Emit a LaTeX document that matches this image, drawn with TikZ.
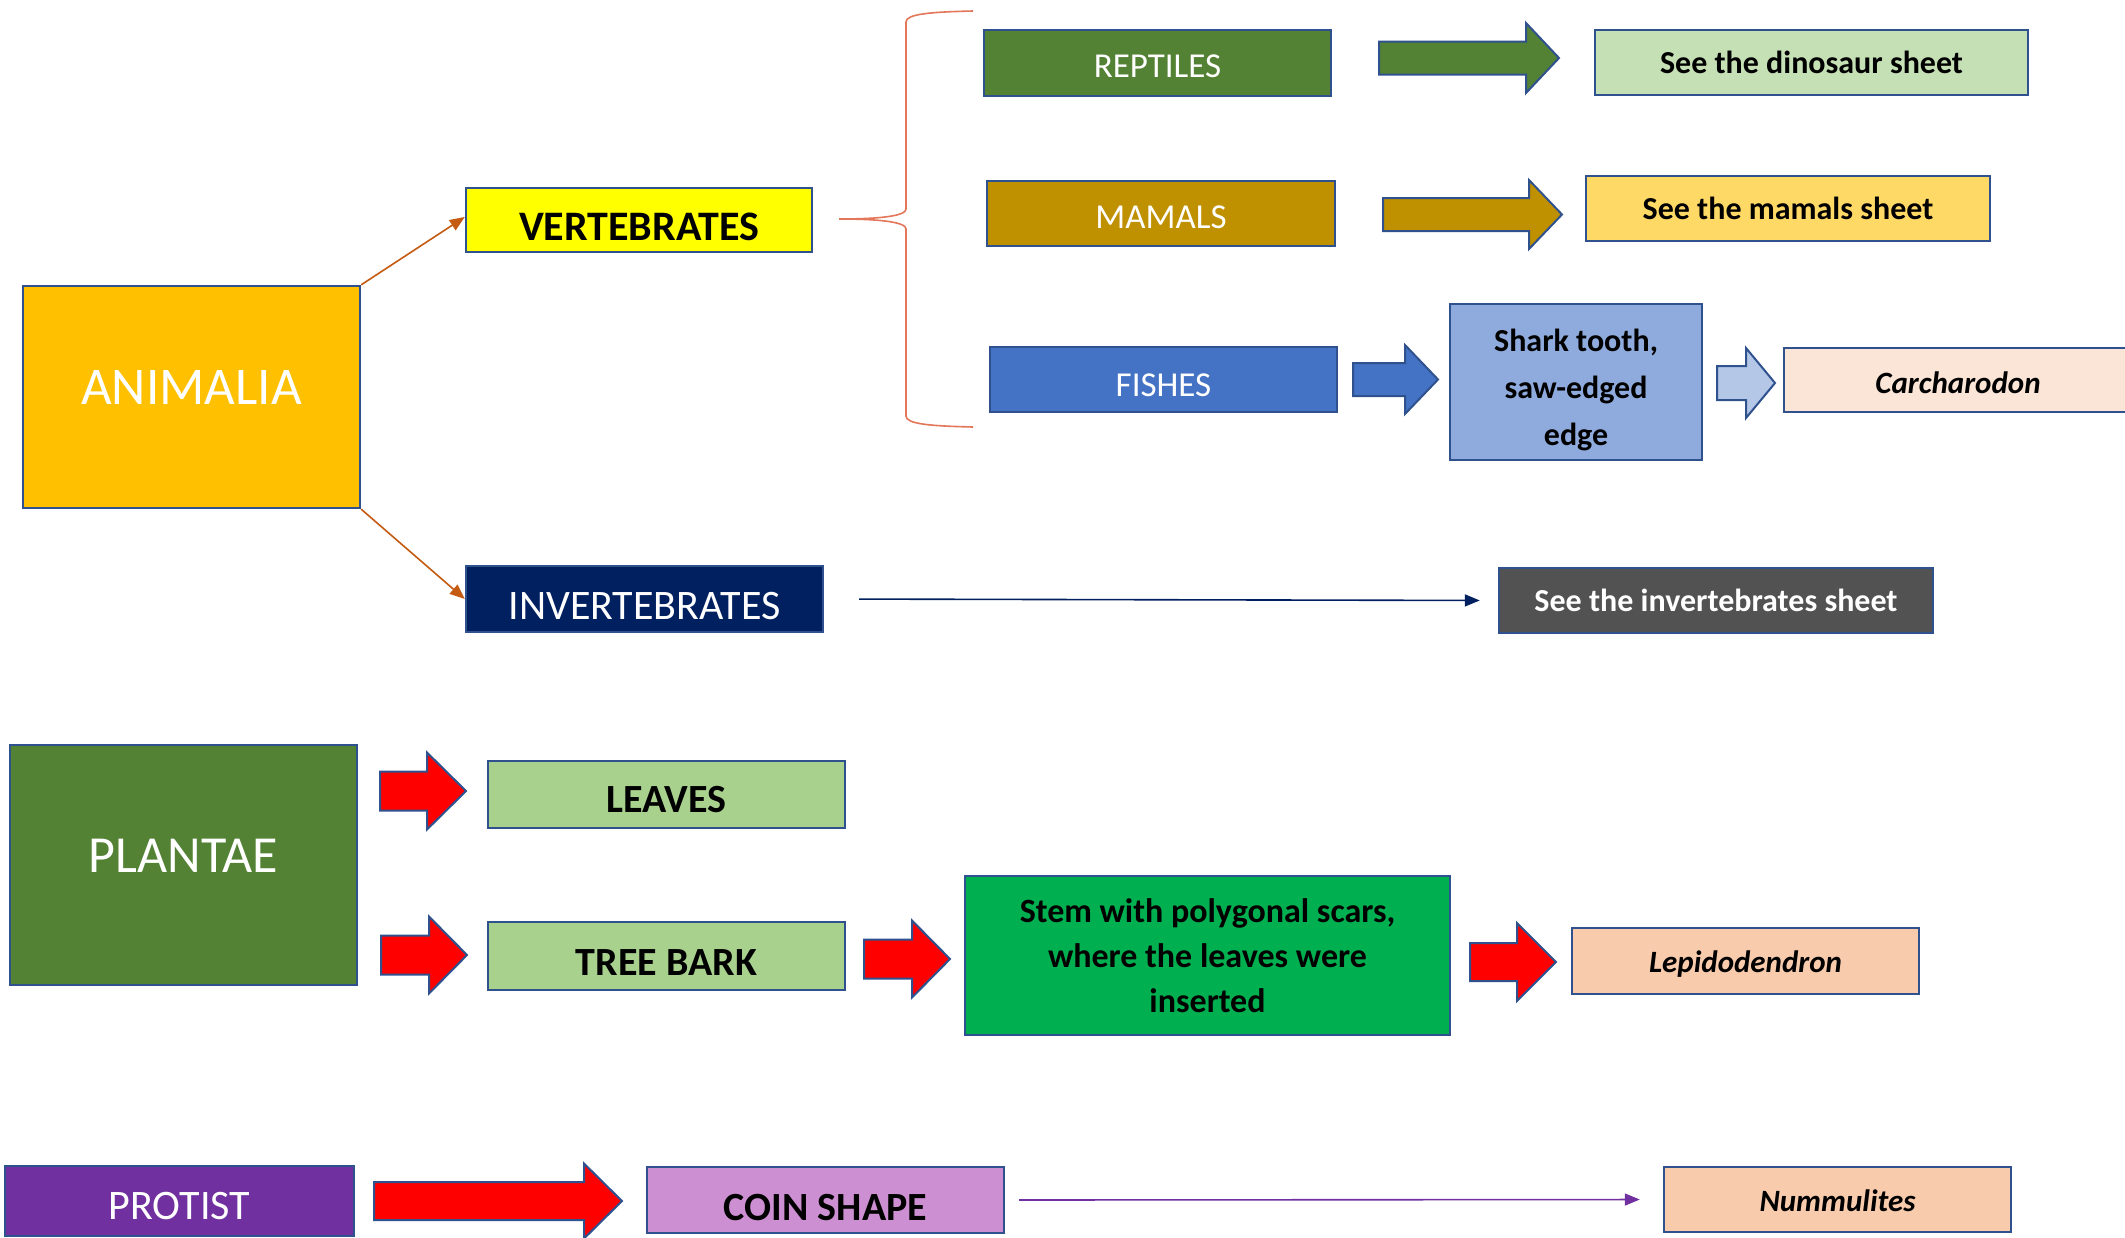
\documentclass[tikz,border=0pt]{standalone}
\usepackage{fontspec}
\setmainfont{Carlito}
\usetikzlibrary{arrows.meta}
\definecolor{bordc}{HTML}{2F528F}
\definecolor{animc}{HTML}{FFC000}
\definecolor{vertc}{HTML}{FFFF00}
\definecolor{invc}{HTML}{002060}
\definecolor{greenc}{HTML}{548235}
\definecolor{dinoc}{HTML}{C5E0B4}
\definecolor{goldc}{HTML}{BF9000}
\definecolor{mamc}{HTML}{FFD966}
\definecolor{bluec}{HTML}{4472C4}
\definecolor{sharkc}{HTML}{8FAADC}
\definecolor{lblue}{HTML}{B4C7E7}
\definecolor{carchc}{HTML}{FBE5D6}
\definecolor{grayc}{HTML}{525252}
\definecolor{leafc}{HTML}{A9D18E}
\definecolor{stemc}{HTML}{00B050}
\definecolor{peachc}{HTML}{F8CBAD}
\definecolor{purc}{HTML}{7030A0}
\definecolor{coinc}{HTML}{CC8FD1}
\definecolor{orangec}{HTML}{C55A11}
\definecolor{bracec}{HTML}{E4765A}
\newcommand\fsz[2]{\fontsize{#1}{#2}\selectfont}
\newcommand\dn[2]{\raisebox{-#1}[\height][\depth]{#2}}
\newcommand\barrow[7]{%
  \draw[blockarrow, fill=#7] (#1,#4-#5) -- (#2,#4-#5) -- (#2,#4-#6) -- (#3,#4)
   -- (#2,#4+#6) -- (#2,#4+#5) -- (#1,#4+#5) -- cycle;}
\tikzset{
  box/.style={draw=bordc, line width=1.2pt, inner sep=0pt, align=center},
  sz/.style 2 args={minimum width=#1, minimum height=#2},
  blockarrow/.style={draw=bordc, line width=1pt, line join=miter},
  big/.style={font=\fsz{26.5pt}{32pt}, text=white},
  mid/.style={font=\fsz{21pt}{25pt}},
  small/.style={font=\fsz{17.5pt}{21pt}, text=white},
  plantlbl/.style={font=\bfseries\fsz{20pt}{24pt}},
  sheet/.style={font=\bfseries\fsz{16pt}{20pt}},
  species/.style={font=\bfseries\itshape\fsz{15.5pt}{19pt}},
  thinarrow/.style={line width=0.8pt, -{Triangle[length=7.5pt,width=6pt]}},
}
\begin{document}
\begin{tikzpicture}[x=0.5pt,y=-0.5pt]
\useasboundingbox (0,0) rectangle (2125,1237);
\clip (0,0) rectangle (2125,1237);
\fill[white] (0,0) rectangle (2125,1237);

% Animalia
\node[box, fill=animc, big, sz={168.5pt}{111pt}] (animalia) at (191.5,397) {\dn{-4.75pt}{ANIMALIA}};
\node[box, fill=vertc, font=\bfseries\fsz{21pt}{25pt}, sz={173pt}{32pt}] (vert) at (639,220) {\dn{3.4pt}{VERTEBRATES}};
\node[box, fill=invc, mid, text=white, sz={178.5pt}{33pt}] (invert) at (644.5,599) {\dn{3.4pt}{INVERTEBRATES}};

\node[box, fill=greenc, small, sz={173.5pt}{33pt}] (rept) at (1157.5,63) {\dn{1.4pt}{REPTILES}};
\node[box, fill=dinoc, sheet, sz={216.5pt}{32.5pt}] (dino) at (1811.5,62.5) {See the dinosaur sheet};
\node[box, fill=goldc, small, sz={174pt}{32.5pt}] (mam) at (1161,213.5) {\dn{2pt}{MAMALS}};
\node[box, fill=mamc, sheet, sz={202pt}{32.5pt}] (mamsheet) at (1788,208.5) {See the mamals sheet};
\node[box, fill=bluec, small, sz={173.5pt}{32.5pt}] (fish) at (1163.5,379.5) {\dn{2.7pt}{FISHES}};
\node[box, fill=sharkc, font=\bfseries\fsz{16pt}{23.5pt}, sz={126pt}{78pt}] (shark) at (1576,382)
  {\dn{3.4pt}{\begin{tabular}{@{}c@{}}Shark tooth,\\ saw-edged\\ edge\end{tabular}}};
\node[box, fill=carchc, species, sz={174pt}{32pt}] (carch) at (1958,380) {\dn{1.4pt}{Carcharodon}};
\node[box, fill=grayc, sheet, text=white, sz={217pt}{32.5pt}] (invsheet) at (1716,600.5) {See the invertebrates sheet};

% Plantae
\node[box, fill=greenc, font=\fsz{26pt}{32pt}, text=white, sz={173.5pt}{120pt}] (plantae) at (183.5,865) {\dn{-4.75pt}{PLANTAE}};
\node[box, fill=leafc, plantlbl, sz={178.5pt}{33.5pt}] (leaves) at (666.5,794.5) {\dn{2.7pt}{LEAVES}};
\node[box, fill=leafc, plantlbl, sz={178.5pt}{34pt}] (bark) at (666.5,956) {\dn{3.4pt}{TREE BARK}};
\node[box, fill=stemc, font=\bfseries\fsz{17pt}{22.5pt}, sz={242.5pt}{79.5pt}] (stem) at (1207.5,955.5) {Stem with polygonal scars,\\ where the leaves were\\ inserted};
\node[box, fill=peachc, species, sz={173.5pt}{33pt}] (lepido) at (1745.5,961) {\dn{1.4pt}{Lepidodendron}};

% Protist
\node[box, fill=purc, mid, text=white, sz={174.5pt}{35pt}] (protist) at (179.5,1201) {\dn{2.7pt}{PROTIST}};
\node[box, fill=coinc, plantlbl, sz={178.5pt}{33pt}] (coin) at (825.5,1200) {\dn{4pt}{COIN SHAPE}};
\node[box, fill=peachc, species, sz={173.5pt}{32.5pt}] (numm) at (1837.5,1199.5) {\dn{0.7pt}{Nummulites}};

% thin connectors
\draw[thinarrow, orangec] (animalia.north east) -- ([yshift=1.5pt]vert.west);
\draw[thinarrow, orangec] (animalia.south east) -- (invert.west);
\draw[thinarrow, invc, shorten <=17.5pt, shorten >=9pt] (invert.east) -- (invsheet.west);
\draw[thinarrow, purc, shorten <=7pt, shorten >=11.5pt] (coin.east) -- (numm.west);

% brace
\coordinate (bracetip) at (839,219);
\draw[bracec, line width=0.8pt] (973,11) .. controls (930,12) and (906,14) .. (906,22)
  -- (906,209) .. controls (906,216) and (880,219) .. (bracetip)
  .. controls (880,219) and (906,222) .. (906,229)
  -- (906,416) .. controls (906,424) and (930,426) .. (973,427);

% block arrows
\barrow{1379}{1526}{1559}{58}{16.5}{35}{greenc}
\barrow{1383}{1529}{1562}{214.5}{16.5}{34.5}{goldc}
\barrow{1353}{1405}{1438}{379.5}{16.5}{34.5}{bluec}
\barrow{1717}{1746}{1775}{383}{17}{35}{lblue}
\barrow{380}{427}{466}{791}{19.5}{38.5}{red}
\barrow{381}{429}{467}{955}{19.5}{38.5}{red}
\barrow{864}{912}{950}{959}{19.5}{38.5}{red}
\barrow{1470}{1517}{1556}{962}{19}{39}{red}
\barrow{374}{584}{622}{1201}{19}{37.5}{red}
\end{tikzpicture}
\end{document}
